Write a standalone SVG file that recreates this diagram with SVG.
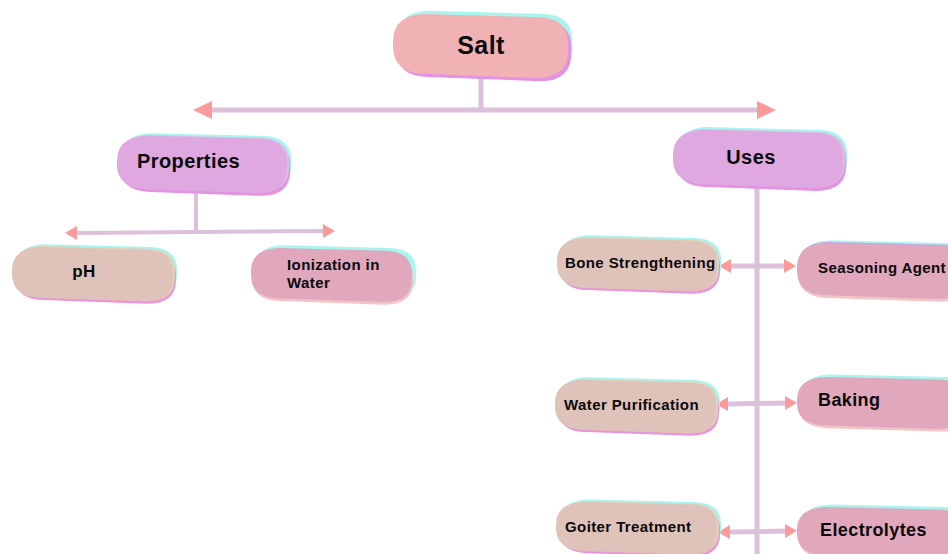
<svg xmlns="http://www.w3.org/2000/svg" xmlns:xlink="http://www.w3.org/1999/xlink" width="948" height="554" viewBox="0 0 948 554">
<style>
.cy{fill:#a8f4ee}.mg{fill:#e393e2}.sa{fill:#f0b2b4}
.pu{fill:#dfa8e0}.pu2{fill:#dcbde6}
.tn{fill:#dfc3bb}.tn2{fill:#e3d2ba}.tn3{fill:#efb0b9}
.pk{fill:#e0a7bd}.pk2{fill:#f3c4c6}.pk3{fill:#c9a0e0}
.t{font-family:"Liberation Sans",Arial,sans-serif;font-weight:bold;fill:#0a0a0a;letter-spacing:0.4px}
.c{fill:none;stroke:#dcc0dc}
</style>
<defs>
<path id="pill" d="M28,0 L134,3 Q160,4 160,28 L160,34 Q160,60 132,60 L28,56 Q0,55 0,30 L0,26 Q0,1 28,0 Z"/>
<marker id="ab" viewBox="0 0 19 18" markerWidth="19" markerHeight="18" refX="0" refY="9" orient="auto-start-reverse" markerUnits="userSpaceOnUse"><path d="M0,0 L19,9 L0,18 Z" fill="#fa9a9a"/></marker>
<marker id="as" viewBox="0 0 12 14" markerWidth="12" markerHeight="14" refX="0" refY="7" orient="auto-start-reverse" markerUnits="userSpaceOnUse"><path d="M0,0 L12,7 L0,14 Z" fill="#fa9a9a"/></marker>
</defs>
<rect width="948" height="554" fill="#fff"/>
<g id="connectors">
<path class="c" stroke-width="5" d="M481,76 L481,110"/>
<path class="c" stroke-width="5" d="M212,110 L757,110" marker-start="url(#ab)" marker-end="url(#ab)"/>
<path class="c" stroke-width="4" d="M196,192 L196,232"/>
<path class="c" stroke-width="4" d="M77,233 L323,231" marker-start="url(#as)" marker-end="url(#as)"/>
<path class="c" stroke-width="5" d="M757,186 L757,554"/>
<path class="c" stroke-width="5" d="M731,266 L784,266" marker-start="url(#as)" marker-end="url(#as)"/>
<path class="c" stroke-width="5" d="M728,404 L785,403" marker-start="url(#as)" marker-end="url(#as)"/>
<path class="c" stroke-width="5" d="M730,532 L785,531" marker-start="url(#as)" marker-end="url(#as)"/>
</g>
<g id="n-salt">
<g transform="translate(393,14) scale(1.094,1.067)">
<use href="#pill" class="cy" x="4" y="-3"/><use href="#pill" class="mg" x="3" y="3"/><use href="#pill" class="sa"/>
</g>
<text class="t" x="481" y="54" font-size="25" text-anchor="middle">Salt</text>
</g>
<g id="n-properties">
<g transform="translate(117,136) scale(1.0625,0.95)">
<use href="#pill" class="cy" x="4" y="-3"/><use href="#pill" class="mg" x="3" y="3"/><use href="#pill" class="pu2" x="2" y="-1"/><use href="#pill" class="pu"/>
</g>
<text class="t" x="137" y="168" font-size="20">Properties</text>
</g>
<g id="n-uses">
<g transform="translate(673,130) scale(1.0625,0.967)">
<use href="#pill" class="cy" x="4" y="-3"/><use href="#pill" class="mg" x="3" y="3"/><use href="#pill" class="pu2" x="2" y="-1"/><use href="#pill" class="pu"/>
</g>
<text class="t" x="751" y="164" font-size="20" text-anchor="middle">Uses</text>
</g>
<g id="n-ph">
<g transform="translate(12,247) scale(1.006,0.9)">
<use href="#pill" class="cy" x="4" y="-3"/><use href="#pill" class="mg" x="3" y="3"/><use href="#pill" class="tn3" x="2" y="1"/><use href="#pill" class="tn2" x="2" y="-1"/><use href="#pill" class="tn"/>
</g>
<text class="t" x="84" y="277" font-size="17" text-anchor="middle">pH</text>
</g>
<g id="n-ionization">
<g transform="translate(251,248) scale(1.006,0.9)">
<use href="#pill" class="cy" x="4" y="-3"/><use href="#pill" class="pk2" x="1" y="3"/><use href="#pill" class="pk"/>
</g>
<text class="t" x="287" y="270" font-size="15">Ionization in</text>
<text class="t" x="287" y="288" font-size="15">Water</text>
</g>
<g id="n-bone">
<g transform="translate(557,238) scale(1,0.883)">
<use href="#pill" class="cy" x="4" y="-3"/><use href="#pill" class="mg" x="3" y="3"/><use href="#pill" class="tn3" x="2" y="1"/><use href="#pill" class="tn2" x="2" y="-1"/><use href="#pill" class="tn"/>
</g>
<text class="t" x="565" y="268" font-size="15">Bone Strengthening</text>
</g>
<g id="n-seasoning">
<g transform="translate(797,243) scale(1.0625,0.933)">
<use href="#pill" class="cy" x="4" y="-3"/><use href="#pill" class="pk3" x="1" y="-1"/><use href="#pill" class="pk2" x="1" y="3"/><use href="#pill" class="pk"/>
</g>
<text class="t" x="818" y="273" font-size="15">Seasoning Agent</text>
</g>
<g id="n-water">
<g transform="translate(555,380) scale(1.006,0.883)">
<use href="#pill" class="cy" x="4" y="-3"/><use href="#pill" class="mg" x="3" y="3"/><use href="#pill" class="tn3" x="2" y="1"/><use href="#pill" class="tn2" x="2" y="-1"/><use href="#pill" class="tn"/>
</g>
<text class="t" x="564" y="410" font-size="15">Water Purification</text>
</g>
<g id="n-baking">
<g transform="translate(797,377) scale(1.0625,0.867)">
<use href="#pill" class="cy" x="4" y="-3"/><use href="#pill" class="pk2" x="1" y="3"/><use href="#pill" class="pk"/>
</g>
<text class="t" x="818" y="406" font-size="18">Baking</text>
</g>
<g id="n-goiter">
<g transform="translate(556,502) scale(1.006,0.867)">
<use href="#pill" class="cy" x="4" y="-3"/><use href="#pill" class="mg" x="3" y="3"/><use href="#pill" class="tn3" x="2" y="1"/><use href="#pill" class="tn2" x="2" y="-1"/><use href="#pill" class="tn"/>
</g>
<text class="t" x="565" y="532" font-size="15">Goiter Treatment</text>
</g>
<g id="n-electrolytes">
<g transform="translate(797,507) scale(1.0625,0.867)">
<use href="#pill" class="cy" x="4" y="-3"/><use href="#pill" class="pk2" x="1" y="3"/><use href="#pill" class="pk"/>
</g>
<text class="t" x="820" y="536" font-size="18">Electrolytes</text>
</g>
</svg>
